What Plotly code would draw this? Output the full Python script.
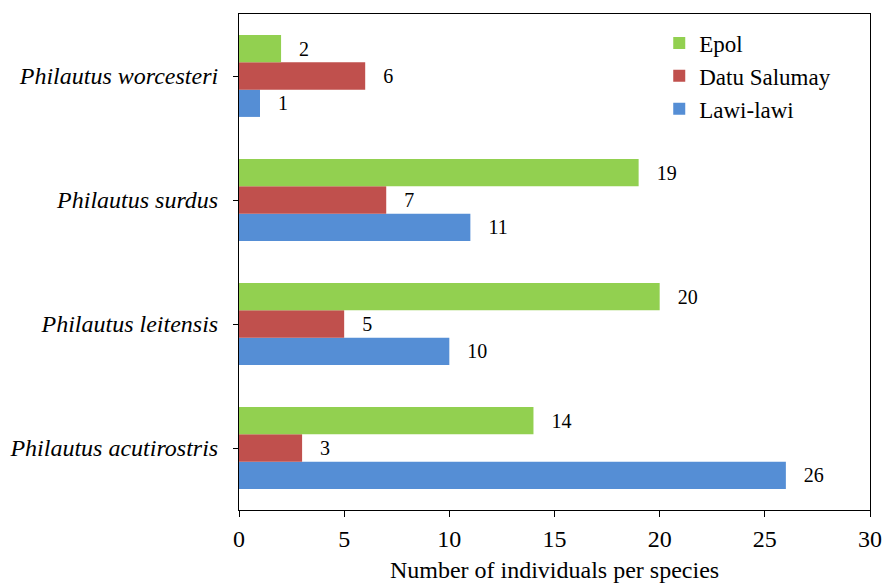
import plotly.graph_objects as go

species = ["Philautus acutirostris", "Philautus leitensis", "Philautus surdus", "Philautus worcesteri"]
lawi = [26, 10, 11, 1]
datu = [3, 5, 7, 6]
epol = [14, 20, 19, 2]

series = [("Lawi-lawi", lawi, "#558ED5"), ("Datu Salumay", datu, "#C0504D"), ("Epol", epol, "#92D050")]

SERIF = "Liberation Serif, Times New Roman, serif"

fig = go.Figure()
pad = "\u00a0" * 3
for name, vals, col in series:
    fig.add_trace(go.Bar(
        y=species, x=vals, name=name, orientation="h",
        marker=dict(color=col, line=dict(width=0)),
        text=vals, texttemplate=pad + "%{x}", textposition="outside",
        textfont=dict(family=SERIF, size=20, color="black"),
        cliponaxis=False,
    ))

fig.update_layout(
    width=884, height=584,
    margin=dict(l=239, r=14, t=14, b=74, autoexpand=False),
    barmode="group", bargap=0.34, bargroupgap=0,
    plot_bgcolor="white", paper_bgcolor="white",
    font=dict(family=SERIF, size=24, color="black"),
    showlegend=True,
    legend=dict(traceorder="reversed", x=0.666, y=0.985, xanchor="left", yanchor="top",
                font=dict(family=SERIF, size=23), bgcolor="rgba(0,0,0,0)", itemwidth=30, tracegroupgap=0),
    xaxis=dict(range=[0, 30], dtick=5, showgrid=False, zeroline=False, automargin=False,
               showline=True, linecolor="#000", linewidth=1, mirror=True,
               ticks="outside", ticklen=6, tickcolor="#000", ticklabelstandoff=1,
               title=dict(text="Number of individuals per species", font=dict(family=SERIF, size=24), standoff=10),
               tickfont=dict(family=SERIF, size=24)),
    yaxis=dict(categoryorder="array", categoryarray=species, showgrid=False, automargin=False,
               showline=True, linecolor="#000", linewidth=1, mirror=True,
               ticks="outside", ticklen=5, tickcolor="#000", ticklabelstandoff=10,
               tickfont=dict(size=24, family=SERIF),
               tickvals=species, ticktext=["<i>" + s + "</i>" for s in species]),
)

fig.write_html("out.html")
